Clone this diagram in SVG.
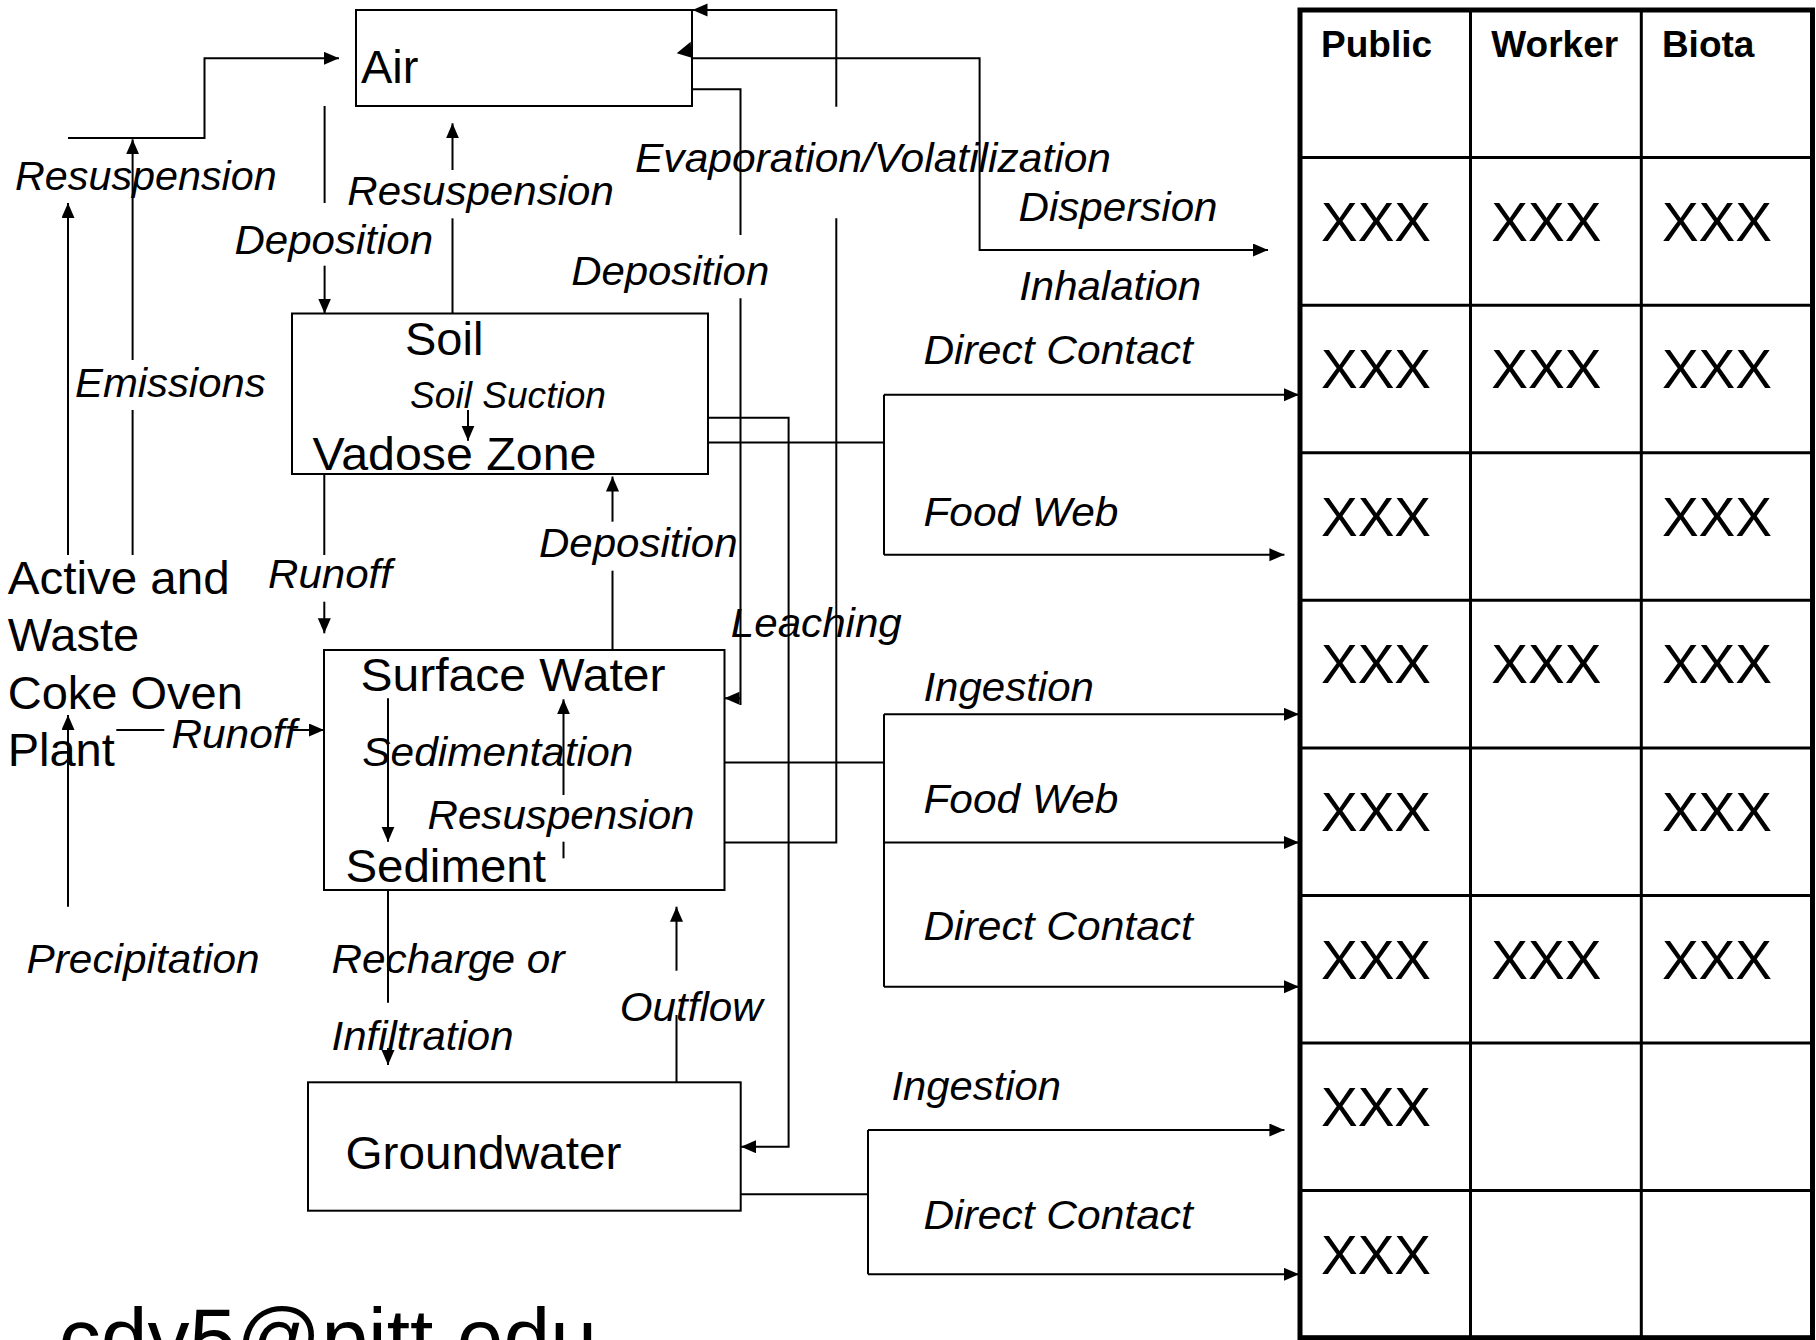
<svg xmlns="http://www.w3.org/2000/svg" width="1816" height="1340" viewBox="0 0 1816 1340">
<style>
.box{fill:none;stroke:#000;stroke-width:2}
.ln{fill:none;stroke:#000;stroke-width:2}
.big{font-family:"Liberation Sans",Arial,sans-serif;font-size:47px;fill:#000}
.it{font-family:"Liberation Sans",Arial,sans-serif;font-size:41px;font-style:italic;fill:#000}
.sm{font-family:"Liberation Sans",Arial,sans-serif;font-size:36px;font-style:italic;fill:#000}
.hd{font-family:"Liberation Sans",Arial,sans-serif;font-size:37px;font-weight:bold;fill:#000}
.xx{font-family:"Liberation Sans",Arial,sans-serif;font-size:55px;fill:#000}
.tout{fill:none;stroke:#000;stroke-width:5}
.tin{fill:none;stroke:#000;stroke-width:3}
</style>
<defs>
<marker id="ah" markerUnits="userSpaceOnUse" markerWidth="16" markerHeight="14" refX="15" refY="6.5" orient="auto">
<path d="M0,0 L15,6.5 L0,13 z" fill="#000"/>
</marker>
</defs>
<rect width="1816" height="1340" fill="#fff"/>

<g id="air">
<rect class="box" x="356" y="10" width="336" height="96"/>
<text class="big" x="361" y="83">Air</text>
</g>
<g id="soil">
<rect class="box" x="292" y="313.5" width="416" height="160.5"/>
<text class="big" x="405" y="354.5">Soil</text>
<text class="big" x="312.5" y="470" textLength="284" lengthAdjust="spacingAndGlyphs">Vadose Zone</text>
</g>
<g id="surface-water">
<rect class="box" x="324" y="650" width="400.5" height="240"/>
<text class="big" x="360.5" y="690.7" textLength="305" lengthAdjust="spacingAndGlyphs">Surface Water</text>
<text class="big" x="345.4" y="881.7" textLength="200.5" lengthAdjust="spacingAndGlyphs">Sediment</text>
</g>
<g id="groundwater">
<rect class="box" x="308" y="1082.3" width="432.7" height="128.4"/>
<text class="big" x="345.4" y="1169.3" textLength="276" lengthAdjust="spacingAndGlyphs">Groundwater</text>
</g>
<g id="source">
<text class="big" x="7.7" y="594" textLength="222" lengthAdjust="spacingAndGlyphs">Active and</text>
<text class="big" x="7.7" y="650.5">Waste</text>
<text class="big" x="7.7" y="708.5">Coke Oven</text>
<text class="big" x="7.7" y="766">Plant</text>
</g>

<g id="connectors">
<path class="ln" d="M68,138 H204.5 V58.3 H339" marker-end="url(#ah)"/>
<path class="ln" d="M68,555 V203" marker-end="url(#ah)"/>
<path class="ln" d="M68,906.7 V715" marker-end="url(#ah)"/>
<path class="ln" d="M132.6,555 V410"/>
<path class="ln" d="M132.6,360 V139.3" marker-end="url(#ah)"/>
<path class="ln" d="M116.3,730 H164.3"/>
<path class="ln" d="M293,730 H324" marker-end="url(#ah)"/>
<path class="ln" d="M324.6,106 V203"/>
<path class="ln" d="M324.6,265.7 V313.5" marker-end="url(#ah)"/>
<path class="ln" d="M452.5,313.5 V218.3"/>
<path class="ln" d="M452.5,170 V123.3" marker-end="url(#ah)"/>
<path class="ln" d="M468,410 V440.7" marker-end="url(#ah)"/>
<path class="ln" d="M324.3,474 V555"/>
<path class="ln" d="M324.3,601.7 V633.3" marker-end="url(#ah)"/>
<path class="ln" d="M612.5,650 V570.7"/>
<path class="ln" d="M612.5,521.7 V476.5" marker-end="url(#ah)"/>
<path class="ln" d="M388,698.3 V841.7" marker-end="url(#ah)"/>
<path class="ln" d="M563.5,795 V699.3" marker-end="url(#ah)"/>
<path class="ln" d="M563.5,841.7 V858.3"/>
<path class="ln" d="M388,890 V1002.7"/>
<path class="ln" d="M388,1048 V1065" marker-end="url(#ah)"/>
<path class="ln" d="M676.5,1082.3 V1015"/>
<path class="ln" d="M676.5,970.7 V906.7" marker-end="url(#ah)"/>
<path class="ln" d="M724.5,842.5 H836.3 V218.3"/>
<path class="ln" d="M836.3,106.7 V10 H692.5" marker-end="url(#ah)"/>
<path class="ln" d="M692,89.3 H740.5 V235"/>
<path class="ln" d="M740.5,298.3 V705"/>
<path class="ln" d="M740.5,698.3 H724.5" marker-end="url(#ah)"/>
<path class="ln" d="M708,417.7 H788.6 V1146.7 H741" marker-end="url(#ah)"/>
<path class="ln" d="M708,442.5 H884"/>
<path class="ln" d="M884,394.8 V554.7"/>
<path class="ln" d="M884,394.8 H1299" marker-end="url(#ah)"/>
<path class="ln" d="M884,554.7 H1284.4" marker-end="url(#ah)"/>
<path class="ln" d="M724.5,762.5 H884"/>
<path class="ln" d="M884,714.3 V986.7"/>
<path class="ln" d="M884,714.3 H1299" marker-end="url(#ah)"/>
<path class="ln" d="M884,842.5 H1299" marker-end="url(#ah)"/>
<path class="ln" d="M884,986.7 H1299" marker-end="url(#ah)"/>
<path class="ln" d="M741,1194.3 H868"/>
<path class="ln" d="M868,1130 V1274.3"/>
<path class="ln" d="M868,1130 H1284.4" marker-end="url(#ah)"/>
<path class="ln" d="M868,1274.3 H1299" marker-end="url(#ah)"/>
<path class="ln" d="M692,58.3 H979.6 V250 H1268" marker-end="url(#ah)"/>
<polygon points="690.7,41.7 676.7,53.3 691.7,57.7" fill="#000"/>
</g>

<g id="labels">
<text class="it" x="15" y="190" textLength="261.7" lengthAdjust="spacingAndGlyphs">Resuspension</text>
<text class="it" x="75" y="396.7" textLength="190.6" lengthAdjust="spacingAndGlyphs">Emissions</text>
<text class="it" x="234.4" y="253.5" textLength="198.7" lengthAdjust="spacingAndGlyphs">Deposition</text>
<text class="it" x="347.3" y="205" textLength="266.5" lengthAdjust="spacingAndGlyphs">Resuspension</text>
<text class="sm" x="410" y="407.5" textLength="196" lengthAdjust="spacingAndGlyphs">Soil Suction</text>
<text class="it" x="268" y="588.3" textLength="124" lengthAdjust="spacingAndGlyphs">Runoff</text>
<text class="it" x="171.4" y="748" textLength="125" lengthAdjust="spacingAndGlyphs">Runoff</text>
<text class="it" x="539" y="556.7" textLength="198.5" lengthAdjust="spacingAndGlyphs">Deposition</text>
<text class="it" x="362.3" y="765.5" textLength="271" lengthAdjust="spacingAndGlyphs">Sedimentation</text>
<text class="it" x="427.5" y="828.5" textLength="267" lengthAdjust="spacingAndGlyphs">Resuspension</text>
<text class="it" x="26.5" y="972.8" textLength="233" lengthAdjust="spacingAndGlyphs">Precipitation</text>
<text class="it" x="331.5" y="972.8" textLength="233" lengthAdjust="spacingAndGlyphs">Recharge or</text>
<text class="it" x="331.5" y="1049.5" textLength="182" lengthAdjust="spacingAndGlyphs">Infiltration</text>
<text class="it" x="619.8" y="1021" textLength="143" lengthAdjust="spacingAndGlyphs">Outflow</text>
<text class="it" x="635" y="172" textLength="476" lengthAdjust="spacingAndGlyphs">Evaporation/Volatilization</text>
<text class="it" x="571.2" y="285" textLength="198" lengthAdjust="spacingAndGlyphs">Deposition</text>
<text class="it" x="730.8" y="637" textLength="171" lengthAdjust="spacingAndGlyphs">Leaching</text>
<text class="it" x="1018.5" y="220.5" textLength="199" lengthAdjust="spacingAndGlyphs">Dispersion</text>
<text class="it" x="1019.2" y="300" textLength="182" lengthAdjust="spacingAndGlyphs">Inhalation</text>
<text class="it" x="923.4" y="364" textLength="269.5" lengthAdjust="spacingAndGlyphs">Direct Contact</text>
<text class="it" x="923.4" y="525.5" textLength="195" lengthAdjust="spacingAndGlyphs">Food Web</text>
<text class="it" x="923.4" y="701" textLength="170.5" lengthAdjust="spacingAndGlyphs">Ingestion</text>
<text class="it" x="923.4" y="813" textLength="195" lengthAdjust="spacingAndGlyphs">Food Web</text>
<text class="it" x="923.4" y="940.2" textLength="269.5" lengthAdjust="spacingAndGlyphs">Direct Contact</text>
<text class="it" x="891.5" y="1100" textLength="169.5" lengthAdjust="spacingAndGlyphs">Ingestion</text>
<text class="it" x="923.4" y="1229" textLength="269.5" lengthAdjust="spacingAndGlyphs">Direct Contact</text>
</g>

<g id="table">
<path class="tin" d="M1470.5,10 V1337.7 M1641.3,10 V1337.7 M1300,157.6 H1812.5 M1300,305.2 H1812.5 M1300,452.7 H1812.5 M1300,600.3 H1812.5 M1300,747.9 H1812.5 M1300,895.5 H1812.5 M1300,1043.1 H1812.5 M1300,1190.6 H1812.5"/>
<rect class="tout" x="1300" y="10" width="512.5" height="1327.7"/>
<text class="hd" x="1321" y="56.7">Public</text>
<text class="hd" x="1491.3" y="56.7">Worker</text>
<text class="hd" x="1661.9" y="56.7">Biota</text>
<text class="xx" x="1321" y="240.6">XXX</text>
<text class="xx" x="1491.3" y="240.6">XXX</text>
<text class="xx" x="1661.9" y="240.6">XXX</text>
<text class="xx" x="1321" y="388.2">XXX</text>
<text class="xx" x="1491.3" y="388.2">XXX</text>
<text class="xx" x="1661.9" y="388.2">XXX</text>
<text class="xx" x="1321" y="535.7">XXX</text>
<text class="xx" x="1661.9" y="535.7">XXX</text>
<text class="xx" x="1321" y="683.3">XXX</text>
<text class="xx" x="1491.3" y="683.3">XXX</text>
<text class="xx" x="1661.9" y="683.3">XXX</text>
<text class="xx" x="1321" y="830.9">XXX</text>
<text class="xx" x="1661.9" y="830.9">XXX</text>
<text class="xx" x="1321" y="978.5">XXX</text>
<text class="xx" x="1491.3" y="978.5">XXX</text>
<text class="xx" x="1661.9" y="978.5">XXX</text>
<text class="xx" x="1321" y="1126.1">XXX</text>
<text class="xx" x="1321" y="1273.6">XXX</text>
</g>

<g id="footer">
<text class="big" x="58.7" y="1367" style="font-size:84px">cdv5@pitt.edu</text>
</g>
</svg>
